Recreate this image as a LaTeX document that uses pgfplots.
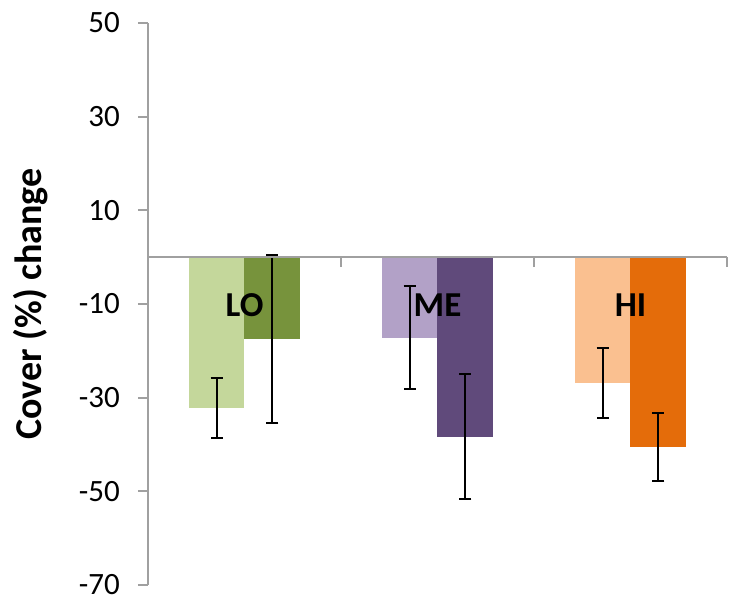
\documentclass[border=0pt]{standalone}
\usepackage{pgfplots}
\pgfplotsset{compat=1.18}
\usepackage{fontspec}
\setmainfont{Carlito}
\definecolor{loL}{HTML}{C4D79B}
\definecolor{loD}{HTML}{77933C}
\definecolor{meL}{HTML}{B2A1C7}
\definecolor{meD}{HTML}{604A7B}
\definecolor{hiL}{HTML}{FAC090}
\definecolor{hiD}{HTML}{E46C0A}
\definecolor{axgray}{HTML}{A0A0A0}
\begin{document}
\begin{tikzpicture}
\begin{axis}[
  at={(0,0)}, anchor=south west,
  scale only axis, width=579pt, height=562pt,
  xmin=-0.5, xmax=2.5, ymin=-70, ymax=50,
  axis y line*=left, axis x line*=middle,
  axis line style={axgray, line width=2pt},
  every tick/.style={axgray, line width=2pt},
  tick align=outside, major tick length=10pt,
  xtick={0.5,1.5,2.5}, xticklabels={},
  ytick={-70,-50,-30,-10,10,30,50},
  /pgf/number format/assume math mode=true,
  yticklabel style={font=\fontsize{31}{36}\selectfont, anchor=east, inner sep=0pt, xshift=-18pt},
  ylabel={Cover (\%) change},
  ylabel style={font=\fontsize{38}{44}\selectfont\bfseries, at={(axis description cs:-0.2021,0.5)}, anchor=center},
  axis on top,
  clip=false,
  ybar, bar width=0.2876, bar shift=0,
]
\addplot[fill=loL, draw=none, error bars/.cd, y dir=both, y explicit, error bar style={black, line width=2pt}, error mark options={black, line width=2pt, mark size=6pt, rotate=90}] coordinates {(-0.1438,-32.3) +- (0,6.4)};
\addplot[fill=loD, draw=none, error bars/.cd, y dir=both, y explicit, error bar style={black, line width=2pt}, error mark options={black, line width=2pt, mark size=6pt, rotate=90}] coordinates {(0.1438,-17.5) +- (0,18.0)};
\addplot[fill=meL, draw=none, error bars/.cd, y dir=both, y explicit, error bar style={black, line width=2pt}, error mark options={black, line width=2pt, mark size=6pt, rotate=90}] coordinates {(0.8562,-17.2) +- (0,11.0)};
\addplot[fill=meD, draw=none, error bars/.cd, y dir=both, y explicit, error bar style={black, line width=2pt}, error mark options={black, line width=2pt, mark size=6pt, rotate=90}] coordinates {(1.1438,-38.3) +- (0,13.3)};
\addplot[fill=hiL, draw=none, error bars/.cd, y dir=both, y explicit, error bar style={black, line width=2pt}, error mark options={black, line width=2pt, mark size=6pt, rotate=90}] coordinates {(1.8562,-26.8) +- (0,7.5)};
\addplot[fill=hiD, draw=none, error bars/.cd, y dir=both, y explicit, error bar style={black, line width=2pt}, error mark options={black, line width=2pt, mark size=6pt, rotate=90}] coordinates {(2.1438,-40.6) +- (0,7.3)};
\node[font=\fontsize{35}{40}\selectfont\bfseries, anchor=center, inner sep=0pt] at (axis cs:0,-10.3) {LO};
\node[font=\fontsize{35}{40}\selectfont\bfseries, anchor=center, inner sep=0pt] at (axis cs:1,-10.3) {ME};
\node[font=\fontsize{35}{40}\selectfont\bfseries, anchor=center, inner sep=0pt] at (axis cs:2,-10.3) {HI};
\end{axis}
\pgfresetboundingbox
\path (-148pt,-13pt) rectangle (581pt,585pt);
\end{tikzpicture}
\end{document}
